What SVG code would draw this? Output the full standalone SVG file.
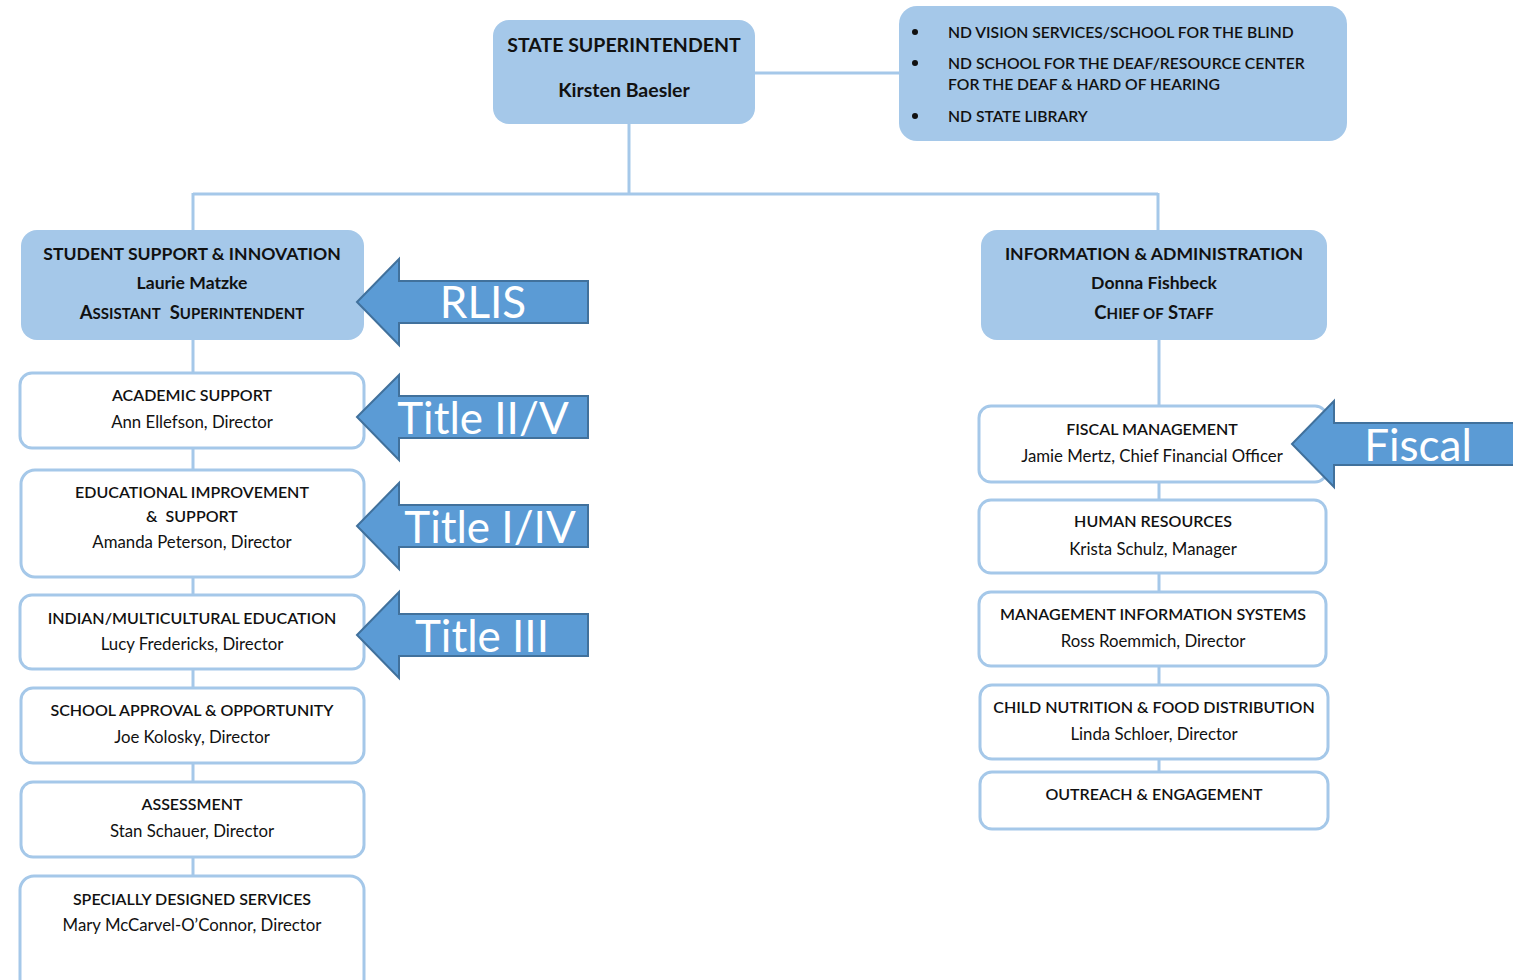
<svg xmlns="http://www.w3.org/2000/svg" width="1513" height="980" viewBox="0 0 1513 980">
<style>
.bx{fill:#a5c8e9;}
.wb{fill:#ffffff;stroke:#a5c8e9;stroke-width:3;}
.ln{stroke:#a5c8e9;stroke-width:3;fill:none;}
.t{font-family:Lato,"Open Sans","Liberation Sans",sans-serif;fill:#111;text-anchor:middle;}
.h{font-size:17.6px;font-weight:bold;}
.big{font-size:19.5px;font-weight:bold;}
.hs{font-size:16px;font-weight:600;}
.n{font-size:16.8px;}
.bl{font-family:Lato,"Open Sans","Liberation Sans",sans-serif;fill:#111;font-size:15.7px;font-weight:600;}
.ar{fill:#5b9bd5;stroke:#41719c;stroke-width:2;}
.at{font-family:Lato,"Open Sans","Liberation Sans",sans-serif;fill:#ffffff;font-size:44px;text-anchor:middle;}
.cp{font-size:18.5px;}
.sc{font-size:15px;}
</style>
<rect width="1513" height="980" fill="#ffffff"/>
<g id="connectors">
<line class="ln" x1="755" y1="73" x2="899" y2="73"/>
<line class="ln" x1="629" y1="124" x2="629" y2="193"/>
<line class="ln" x1="193" y1="194" x2="1158" y2="194"/>
<line class="ln" x1="193" y1="193" x2="193" y2="230"/>
<line class="ln" x1="1158" y1="193" x2="1158" y2="230"/>
<line class="ln" x1="193" y1="340" x2="193" y2="876"/>
<line class="ln" x1="1159" y1="340" x2="1159" y2="772"/>
</g>
<g id="state-superintendent">
<rect class="bx" x="493" y="20" width="262" height="104" rx="16"/>
<text class="t big" x="624" y="52">STATE SUPERINTENDENT</text>
<text class="t big" x="624" y="97">Kirsten Baesler</text>
</g>
<g id="agencies">
<rect class="bx" x="899" y="6" width="448" height="135" rx="18"/>
<circle cx="915" cy="32" r="3" fill="#111"/>
<circle cx="915" cy="63" r="3" fill="#111"/>
<circle cx="915" cy="116" r="3" fill="#111"/>
<text class="bl" x="948" y="38">ND VISION SERVICES/SCHOOL FOR THE BLIND</text>
<text class="bl" x="948" y="69">ND SCHOOL FOR THE DEAF/RESOURCE CENTER</text>
<text class="bl" x="948" y="90">FOR THE DEAF &amp; HARD OF HEARING</text>
<text class="bl" x="948" y="122">ND STATE LIBRARY</text>
</g>
<g id="student-support">
<rect class="bx" x="21" y="230" width="343" height="110" rx="16"/>
<text class="t h" x="192" y="260">STUDENT SUPPORT &amp; INNOVATION</text>
<text class="t h" x="192" y="289">Laurie Matzke</text>
<text class="t h" x="192" y="319" xml:space="preserve"><tspan class="cp">A</tspan><tspan class="sc">SSISTANT</tspan><tspan class="cp">  S</tspan><tspan class="sc">UPERINTENDENT</tspan></text>
</g>
<g id="info-admin">
<rect class="bx" x="981" y="230" width="346" height="110" rx="16"/>
<text class="t h" x="1154" y="260">INFORMATION &amp; ADMINISTRATION</text>
<text class="t h" x="1154" y="289">Donna Fishbeck</text>
<text class="t h" x="1154" y="319" xml:space="preserve"><tspan class="cp">C</tspan><tspan class="sc">HIEF OF</tspan><tspan class="cp"> S</tspan><tspan class="sc">TAFF</tspan></text>
</g>
<g id="academic-support">
<rect class="wb" x="20" y="373" width="344" height="75" rx="12"/>
<text class="t hs" x="192" y="401">ACADEMIC SUPPORT</text>
<text class="t n" x="192" y="428">Ann Ellefson, Director</text>
</g>
<g id="educational-improvement">
<rect class="wb" x="21" y="470" width="343" height="107" rx="14"/>
<text class="t hs" x="192" y="498">EDUCATIONAL IMPROVEMENT</text>
<text class="t hs" x="192" y="522" xml:space="preserve">&amp;  SUPPORT</text>
<text class="t n" x="192" y="548">Amanda Peterson, Director</text>
</g>
<g id="indian-multicultural">
<rect class="wb" x="20" y="595" width="344" height="74" rx="12"/>
<text class="t hs" x="192" y="624">INDIAN/MULTICULTURAL EDUCATION</text>
<text class="t n" x="192" y="650">Lucy Fredericks, Director</text>
</g>
<g id="school-approval">
<rect class="wb" x="21" y="688" width="343" height="75" rx="12"/>
<text class="t hs" x="192" y="716">SCHOOL APPROVAL &amp; OPPORTUNITY</text>
<text class="t n" x="192" y="743">Joe Kolosky, Director</text>
</g>
<g id="assessment">
<rect class="wb" x="21" y="782" width="343" height="75" rx="12"/>
<text class="t hs" x="192" y="810">ASSESSMENT</text>
<text class="t n" x="192" y="837">Stan Schauer, Director</text>
</g>
<g id="specially-designed">
<rect class="wb" x="20" y="876" width="344" height="120" rx="14"/>
<text class="t hs" x="192" y="905">SPECIALLY DESIGNED SERVICES</text>
<text class="t n" x="192" y="931">Mary McCarvel-O’Connor, Director</text>
</g>
<g id="fiscal-management">
<rect class="wb" x="979" y="406" width="348" height="76" rx="12"/>
<text class="t hs" x="1152" y="435">FISCAL MANAGEMENT</text>
<text class="t n" x="1152" y="462">Jamie Mertz, Chief Financial Officer</text>
</g>
<g id="human-resources">
<rect class="wb" x="979" y="500" width="347" height="73" rx="12"/>
<text class="t hs" x="1153" y="527">HUMAN RESOURCES</text>
<text class="t n" x="1153" y="555">Krista Schulz, Manager</text>
</g>
<g id="mis">
<rect class="wb" x="979" y="592" width="347" height="74" rx="12"/>
<text class="t hs" x="1153" y="620">MANAGEMENT INFORMATION SYSTEMS</text>
<text class="t n" x="1153" y="647">Ross Roemmich, Director</text>
</g>
<g id="child-nutrition">
<rect class="wb" x="980" y="685" width="348" height="74" rx="12"/>
<text class="t hs" x="1154" y="713">CHILD NUTRITION &amp; FOOD DISTRIBUTION</text>
<text class="t n" x="1154" y="740">Linda Schloer, Director</text>
</g>
<g id="outreach">
<rect class="wb" x="980" y="772" width="348" height="57" rx="12"/>
<text class="t hs" x="1154" y="800">OUTREACH &amp; ENGAGEMENT</text>
</g>
<g id="arrow-rlis">
<path class="ar" d="M357,302 L399,259 L399,281 L588,281 L588,323 L399,323 L399,345 Z"/>
<text class="at" x="483" y="318">RLIS</text>
</g>
<g id="arrow-title-2-5">
<path class="ar" d="M357,417 L399,375 L399,396 L588,396 L588,438 L399,438 L399,460 Z"/>
<text class="at" x="483" y="434">Title II/V</text>
</g>
<g id="arrow-title-1-4">
<path class="ar" d="M357,526 L399,483 L399,505 L588,505 L588,547 L399,547 L399,569 Z"/>
<text class="at" x="490" y="543">Title I/IV</text>
</g>
<g id="arrow-title-3">
<path class="ar" d="M357,635 L399,592 L399,614 L588,614 L588,656 L399,656 L399,678 Z"/>
<text class="at" x="482" y="652">Title III</text>
</g>
<g id="arrow-fiscal">
<path class="ar" d="M1292,444 L1334,401 L1334,423 L1520,423 L1520,465 L1334,465 L1334,487 Z"/>
<text class="at" x="1418" y="461">Fiscal</text>
</g>
</svg>
